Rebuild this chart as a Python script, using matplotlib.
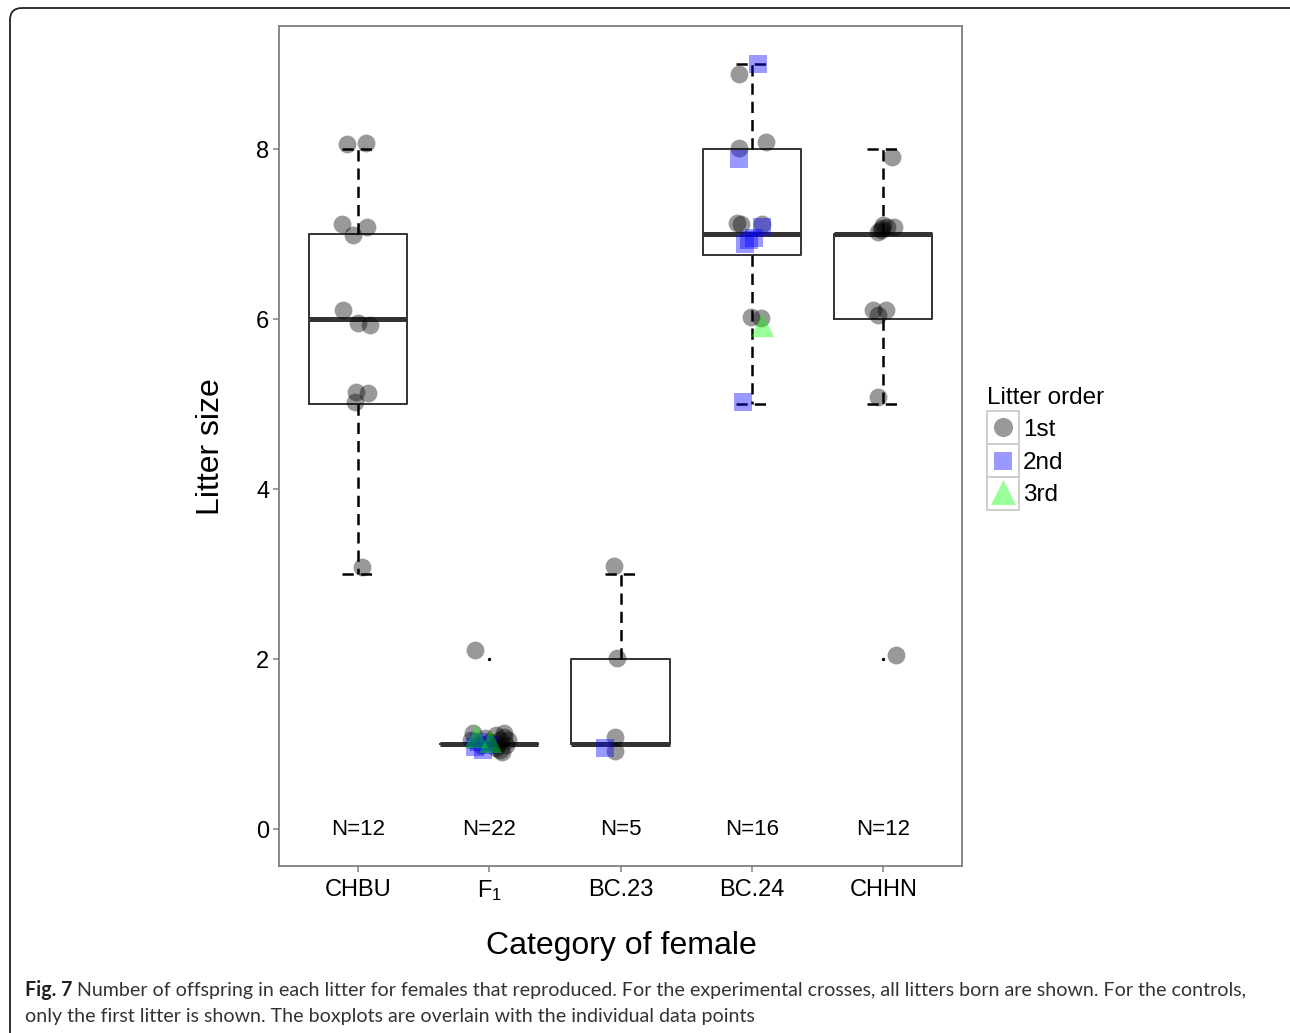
import matplotlib
matplotlib.use("Agg")
import matplotlib.pyplot as plt
from matplotlib import font_manager
from matplotlib.patches import FancyBboxPatch, Rectangle

plt.rcParams['font.family'] = ['Liberation Sans', 'DejaVu Sans']
plt.rcParams['mathtext.fontset'] = 'custom'
plt.rcParams['mathtext.rm'] = 'Liberation Sans'

# ---------------------------------------------------------------------------
# data (points carry their visible jitter)
# ---------------------------------------------------------------------------
categories = ['CHBU', 'F1', 'BC.23', 'BC.24', 'CHHN']
tick_labels = ['CHBU', r'$\mathregular{F_1}$', 'BC.23', 'BC.24', 'CHHN']
n_labels = ['N=12', 'N=22', 'N=5', 'N=16', 'N=12']

# box statistics
whislo = [3, 1, 1, 5, 5]
q1 = [5, 1, 1, 6.75, 6]
med = [6, 1, 1, 7, 7]
q3 = [7, 1, 2, 8, 7]
whishi = [8, 1, 3, 9, 8]
outliers = [[], [2], [], [], [2]]

# litter order: 1 = 1st, 2 = 2nd, 3 = 3rd
chbu_dx = [-0.08, 0.06, -0.12, 0.07, -0.04, -0.11, 0.00, 0.09, -0.01, 0.08, -0.02, 0.03]
chbu_y = [8.06, 8.07, 7.12, 7.09, 6.99, 6.11, 5.96, 5.93, 5.14, 5.13, 5.02, 3.08]
chbu_order = [1] * 12

f1_dx = [-0.11, -0.12, -0.06, 0.05, 0.08, 0.11, 0.13, 0.08, 0.10, -0.14, 0.01, 0.14,
         0.05, -0.03, 0.11, 0.06, -0.11, -0.05, -0.01, -0.08, -0.10, 0.01]
f1_y = [2.11, 1.13, 0.99, 1.11, 1.05, 1.08, 0.99, 0.93, 0.91, 1.05, 1.02, 1.05,
        0.95, 1.07, 1.13, 0.99, 0.96, 0.93, 0.99, 1.02, 1.10, 1.04]
f1_order = [1] * 16 + [2] * 4 + [3] * 2

bc23_dx = [-0.05, -0.03, -0.04, -0.04, -0.12]
bc23_y = [3.09, 2.01, 1.08, 0.92, 0.95]
bc23_order = [1, 1, 1, 1, 2]

bc24_dx = [0.05, -0.10, 0.11, -0.10, -0.10, -0.11, -0.08, 0.08, 0.08, 0.02,
           -0.02, -0.05, -0.01, 0.07, 0.08, -0.07]
bc24_y = [9.00, 8.89, 8.08, 8.01, 7.89, 7.13, 7.12, 7.12, 7.09, 6.96,
          6.93, 6.89, 6.02, 6.01, 5.93, 5.02]
bc24_order = [2, 1, 1, 1, 2, 1, 1, 1, 2, 2, 2, 2, 1, 1, 3, 2]

chhn_dx = [0.07, -0.01, 0.03, 0.08, -0.02, 0.00, -0.04, -0.08, 0.02, -0.04, -0.04, 0.10]
chhn_y = [7.91, 7.07, 7.08, 7.08, 7.05, 7.11, 7.02, 6.11, 6.11, 6.05, 5.08, 2.05]
chhn_order = [1] * 12

group_dx = [chbu_dx, f1_dx, bc23_dx, bc24_dx, chhn_dx]
group_y = [chbu_y, f1_y, bc23_y, bc24_y, chhn_y]
group_order = [chbu_order, f1_order, bc23_order, bc24_order, chhn_order]

order_labels = ['1st', '2nd', '3rd']
order_colors = ['black', 'blue', '#00ff00']
order_markers = ['o', 's', '^']
order_sizes = [165, 150, 280]

# ---------------------------------------------------------------------------
W, H = 1290, 1033
fig = plt.figure(figsize=(W / 100, H / 100), dpi=100)

# overlay in pixel coordinates for frame, labels, legend and caption
ov = fig.add_axes([0, 0, 1, 1])
ov.set_xlim(0, W)
ov.set_ylim(H, 0)
ov.axis('off')

ax = fig.add_axes([279 / W, 1 - 866 / H, (962 - 279) / W, (866 - 26) / H])

stats = []
for i in range(len(categories)):
    stats.append(dict(whislo=whislo[i], q1=q1[i], med=med[i], q3=q3[i],
                      whishi=whishi[i], fliers=outliers[i], label=categories[i]))

ax.bxp(stats, positions=range(1, 6), widths=0.75, capwidths=0.24,
       boxprops=dict(color='#333333', linewidth=1.4),
       medianprops=dict(color='#333333', linewidth=3.6, solid_capstyle='butt'),
       whiskerprops=dict(color='black', linewidth=1.8, dashes=(4.5, 2.8)),
       capprops=dict(color='black', linewidth=1.8, dashes=(4.5, 2.8)),
       flierprops=dict(marker='o', markersize=1.4, markerfacecolor='black',
                       markeredgecolor='black'))

for i in range(len(categories)):
    for k in range(3):
        xs = [i + 1 + d for d, o in zip(group_dx[i], group_order[i]) if o == k + 1]
        ys = [y for y, o in zip(group_y[i], group_order[i]) if o == k + 1]
        if xs:
            ax.scatter(xs, ys, s=order_sizes[k], marker=order_markers[k],
                       color=order_colors[k], alpha=0.4, linewidths=0, zorder=3)
    ax.text(i + 1, 0, n_labels[i], ha='center', va='center', fontsize=16)

ax.set_xlim(0.4, 5.6)
ax.set_ylim(-0.435, 9.45)
ax.set_xticks(range(1, 6))
ax.set_xticklabels(tick_labels)
ax.set_yticks([0, 2, 4, 6, 8])
ax.tick_params(axis='both', direction='out', length=4, width=1.1,
               color='#7f7f7f', labelsize=17, labelcolor='black')
ax.tick_params(axis='y', pad=3)
ax.tick_params(axis='x', pad=5)
for sp in ax.spines.values():
    sp.set_color('#7f7f7f')
    sp.set_linewidth(1.3)

# axis titles
ov.text(621, 946, 'Category of female', ha='center', va='center', fontsize=23)
ov.text(211, 447, 'Litter size', ha='center', va='center', fontsize=23,
        rotation=90)

# legend
ov.text(987, 404, 'Litter order', ha='left', va='baseline', fontsize=17.5)
key_tops = [411, 444, 477]
key_centers = [427, 461, 492]
label_base = [436, 469, 501]
for k in range(3):
    ov.add_patch(Rectangle((987, key_tops[k]), 32, 33, facecolor='white',
                           edgecolor='#cccccc', linewidth=1.3))
    ov.scatter([1003], [key_centers[k]], s=order_sizes[k] * 1.15,
               marker=order_markers[k], color=order_colors[k], alpha=0.4,
               linewidths=0, zorder=3)
    ov.text(1023, label_base[k], order_labels[k], ha='left', va='baseline',
            fontsize=17.5)

# outer rounded frame
ov.add_patch(FancyBboxPatch((10, 8), 1320, 1060,
                            boxstyle='round,pad=0,rounding_size=12',
                            facecolor='none', edgecolor='#222222',
                            linewidth=1.3, clip_on=True))

# caption
cap_font = 'Liberation Sans Narrow'
try:
    font_manager.findfont(cap_font, fallback_to_default=False)
except ValueError:
    cap_font = 'Lato'
cap_size = 14.1
t1 = ov.text(25, 996, 'Fig. 7', ha='left', va='baseline', fontsize=cap_size,
             fontweight='bold', family=cap_font, color='#231f20')
renderer = fig.canvas.get_renderer()
bb = t1.get_window_extent(renderer)
x_rest = 25 + bb.width + 5
ov.text(x_rest, 996,
        'Number of offspring in each litter for females that reproduced. '
        'For the experimental crosses, all litters born are shown. For the controls,',
        ha='left', va='baseline', fontsize=cap_size, family=cap_font,
        color='#333333')
ov.text(25, 1022,
        'only the first litter is shown. The boxplots are overlain with the '
        'individual data points',
        ha='left', va='baseline', fontsize=cap_size, family=cap_font,
        color='#333333')

fig.savefig('out.png', dpi=100)
